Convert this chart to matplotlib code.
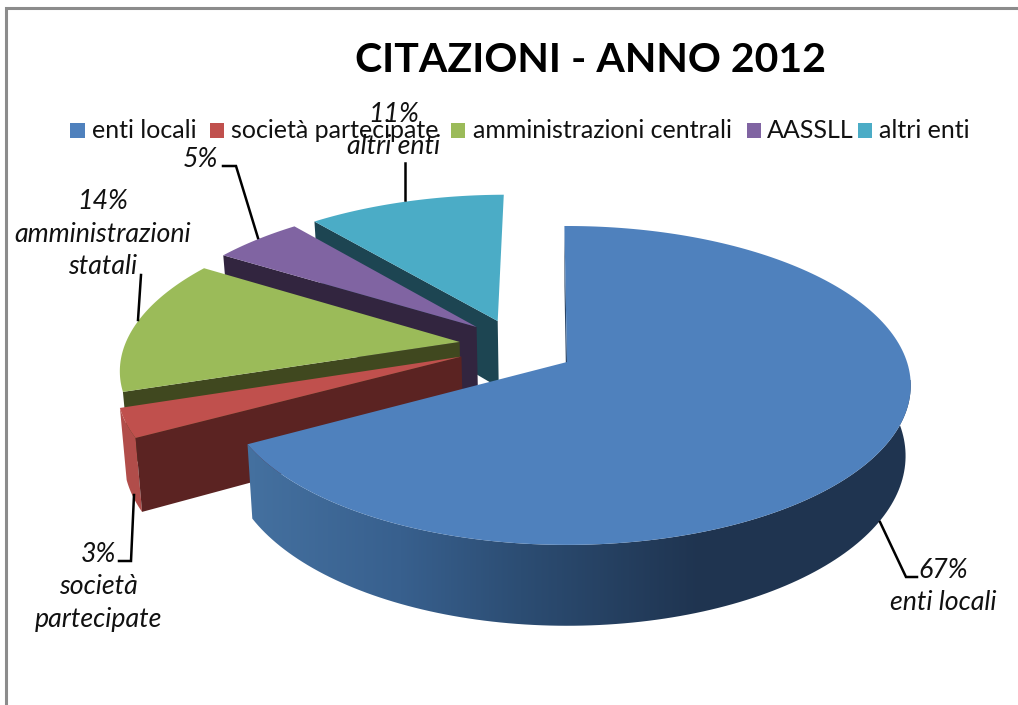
import numpy as np
import matplotlib
matplotlib.use('Agg')
import matplotlib.pyplot as plt
from matplotlib.patches import Polygon, Rectangle
from matplotlib.colors import to_rgb

plt.rcParams['font.family'] = ['Lato', 'DejaVu Sans']

title = 'CITAZIONI - ANNO 2012'
legend_names = ['enti locali', 'società partecipate', 'amministrazioni centrali', 'AASSLL', 'altri enti']
label_names = [['enti locali'], ['società', 'partecipate'], ['amministrazioni', 'statali'], [], ['altri enti']]
values = [67, 3, 14, 5, 11]

top_colors = ['#4f81bd', '#c0504d', '#9bbb59', '#8064a2', '#4bacc6']
wall_colors = ['#1f3450', '#b14d4a', '#5d7036', '#4c3c61', '#2d6676']
side_colors = ['#2a4566', '#5b2322', '#40481f', '#32253f', '#1d4552']

# how far each slice is pulled out, in pie plane units (x, y)
explode = [(0.0, 0.0), (-0.312, 0.035), (-0.322, 0.131), (-0.275, 0.232), (-0.212, 0.273)]

# perspective of the pie plane
CX, CY = 567, 362
A, B, P = 340, 156, 0.147
DEPTH = 69
SHRINK = 0.985
START = -0.5


def project(X, Y, lower=False):
    X, Y = np.asarray(X, float), np.asarray(Y, float)
    w = 1 + P * Y
    sx = A * X / w
    sy = -B * Y / w
    if lower:
        sx = sx * SHRINK
        sy = sy + DEPTH / w
    return CX + sx, CY + sy


def rim(theta, off, lower=False):
    t = np.radians(theta)
    return project(np.sin(t) + off[0], np.cos(t) + off[1], lower)


def blue_shade(x):
    # outer wall of the big slice gets darker towards the right
    stops = [254, 400, 520, 700, 911]
    c = [to_rgb(s) for s in ['#44709f', '#38608e', '#2c4d73', '#1f3450', '#1f3450']]
    return np.stack([np.interp(x, stops, [k[i] for k in c]) for i in range(3)], axis=-1)


fig = plt.figure(figsize=(10.18, 7.05), dpi=100)
ax = fig.add_axes([0, 0, 1, 1])

# chart frame, only top and left are inside the crop
ax.plot([6, 6, 1018], [705, 8, 8], color='#8c8c8c', lw=2.2, solid_joinstyle='miter')

ends = START + np.cumsum(values) * 360 / sum(values)
starts = np.r_[START, ends[:-1]]

# far slices first, the big one ends up on top
for i in [4, 3, 2, 1, 0]:
    off = explode[i]
    z = 2 + (4 - i) * 0.1
    th = np.linspace(starts[i], ends[i], 200)
    tx, ty = rim(th, off)
    lx, ly = rim(th, off, lower=True)
    pts = list(zip(tx, ty)) + list(zip(lx[::-1], ly[::-1]))

    if i == 0:
        # gradient wall, clipped to the wall outline
        wall = Polygon(pts, fc='none', ec='none', transform=ax.transData)
        ax.add_patch(wall)
        cols = np.arange(240, 920)
        grad = blue_shade(cols)[np.newaxis, :, :]
        im = ax.imshow(grad, extent=(240, 920, 640, 380), aspect='auto', zorder=z)
        im.set_clip_path(wall)
    elif i == 1:
        ax.add_patch(Polygon(pts, fc=wall_colors[i], ec='none', zorder=z))

    # cut face along the first edge of the slice
    ax0, ay0 = project(off[0], off[1])
    ax1, ay1 = project(off[0], off[1], lower=True)
    side = [(tx[0], ty[0]), (ax0, ay0), (ax1, ay1), (lx[0], ly[0])]
    ax.add_patch(Polygon(side, fc=side_colors[i], ec='none', zorder=z))

    face = [(ax0, ay0)] + list(zip(tx, ty))
    ax.add_patch(Polygon(face, fc=top_colors[i], ec='none', zorder=z))

ax.set_xlim(0, 1018)
ax.set_ylim(705, 0)
ax.axis('off')

ax.text(591, 72, title, ha='center', va='baseline', fontsize=29.5, fontweight='bold', color='black')

# legend row
leg_box = [(70, 15), (210, 14), (451, 14), (747, 14), (858, 14)]
leg_text = [92, 231, 473, 767, 879]
for name, col, (bx, bw), tx0 in zip(legend_names, top_colors, leg_box, leg_text):
    ax.add_patch(Rectangle((bx, 123), bw, 15, fc=col, ec='none', zorder=3))
    ax.text(tx0, 138, name, ha='left', va='baseline', fontsize=18, color='#111111', zorder=4)

# data labels with their leader lines
label_x = [943, 98, 103, 201, 394]
label_base = [578, 562, 209, 167, 122]
line_gap = 32.5
for v, names, lx0, ly0 in zip(values, label_names, label_x, label_base):
    rows = [f'{v}%'] + names
    for r, row in enumerate(rows):
        ax.text(lx0, ly0 + r * line_gap, row, ha='center', va='baseline', fontsize=19.3,
                style='italic', color='#111111', zorder=4)

leaders = [
    ([880, 906, 917], [522, 577, 577]),
    ([119, 131, 134], [561, 561, 495]),
    ([141, 138], [275, 320]),
    ([223, 236, 258], [166, 166, 238]),
    ([405, 405], [163, 200]),
]
for xs, ys in leaders:
    ax.plot(xs, ys, color='black', lw=1.8, zorder=4, solid_joinstyle='miter')

fig.savefig('out.png', dpi=100, facecolor='white')
